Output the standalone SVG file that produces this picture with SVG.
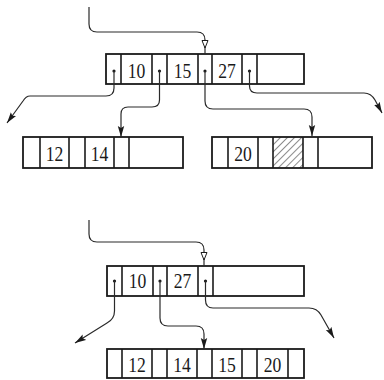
<svg xmlns="http://www.w3.org/2000/svg" width="384" height="380" viewBox="0 0 384 380">
  <style>
    .box { fill: #fff; stroke: #1a1a1a; stroke-width: 1.8; }
    .div { stroke: #1a1a1a; stroke-width: 1.6; }
    .key { font-family: "Liberation Serif", "DejaVu Serif", serif; font-size: 20.5px; fill: #1a1a1a; text-anchor: middle; }
    .dot { fill: #1a1a1a; }
    .wire { fill: none; stroke: #2a2a2a; stroke-width: 1.2; }
    .arrow { marker-end: url(#head); }
    .arrow-open { marker-end: url(#head-open); }
  </style>
  <defs>
    <marker id="head" markerUnits="userSpaceOnUse" markerWidth="12" markerHeight="8" refX="11" refY="4" orient="auto">
      <path d="M0,0.8 L11,4 L0,7.2 L2,4 z" fill="#1a1a1a"/>
    </marker>
    <marker id="head-open" markerUnits="userSpaceOnUse" markerWidth="10" markerHeight="8" refX="8" refY="4" orient="auto">
      <path d="M0.5,1 L8,4 L0.5,7 z" fill="#fff" stroke="#1a1a1a" stroke-width="1"/>
    </marker>
    <pattern id="hatch" patternUnits="userSpaceOnUse" width="5" height="5" patternTransform="rotate(45)">
      <line x1="0" y1="0" x2="0" y2="5" stroke="#1a1a1a" stroke-width="1"/>
    </pattern>
  </defs>

  <!-- upper tree: root node -->
  <g id="root-a">
    <rect class="box" x="106" y="54" width="198" height="30"/>
    <line class="div" x1="121" y1="54" x2="121" y2="84"/>
    <line class="div" x1="152" y1="54" x2="152" y2="84"/>
    <line class="div" x1="167" y1="54" x2="167" y2="84"/>
    <line class="div" x1="198" y1="54" x2="198" y2="84"/>
    <line class="div" x1="212" y1="54" x2="212" y2="84"/>
    <line class="div" x1="242" y1="54" x2="242" y2="84"/>
    <line class="div" x1="257" y1="54" x2="257" y2="84"/>
    <text class="key" transform="translate(136.5,78) scale(0.86,1)">10</text>
    <text class="key" transform="translate(182.5,78) scale(0.86,1)">15</text>
    <text class="key" transform="translate(227,78) scale(0.86,1)">27</text>
    <circle class="dot" cx="114" cy="71" r="1.6"/>
    <circle class="dot" cx="159.5" cy="71" r="1.6"/>
    <circle class="dot" cx="205" cy="71" r="1.6"/>
    <circle class="dot" cx="249.5" cy="71" r="1.6"/>
  </g>

  <!-- upper tree: left child -->
  <g id="leaf-a1">
    <rect class="box" x="23" y="137" width="160" height="31"/>
    <line class="div" x1="40" y1="137" x2="40" y2="168"/>
    <line class="div" x1="69" y1="137" x2="69" y2="168"/>
    <line class="div" x1="85" y1="137" x2="85" y2="168"/>
    <line class="div" x1="114" y1="137" x2="114" y2="168"/>
    <line class="div" x1="129" y1="137" x2="129" y2="168"/>
    <text class="key" transform="translate(54.5,161) scale(0.86,1)">12</text>
    <text class="key" transform="translate(99.5,161) scale(0.86,1)">14</text>
  </g>

  <!-- upper tree: right child with hatched slot -->
  <g id="leaf-a2">
    <rect class="box" x="212" y="137" width="160" height="31"/>
    <rect x="273" y="137" width="30" height="31" fill="url(#hatch)"/>
    <line class="div" x1="228" y1="137" x2="228" y2="168"/>
    <line class="div" x1="258" y1="137" x2="258" y2="168"/>
    <line class="div" x1="273" y1="137" x2="273" y2="168"/>
    <line class="div" x1="303" y1="137" x2="303" y2="168"/>
    <line class="div" x1="318" y1="137" x2="318" y2="168"/>
    <text class="key" transform="translate(243,161) scale(0.86,1)">20</text>
  </g>

  <!-- lower tree: root node -->
  <g id="root-b">
    <rect class="box" x="107" y="266" width="197" height="30"/>
    <line class="div" x1="122" y1="266" x2="122" y2="296"/>
    <line class="div" x1="153" y1="266" x2="153" y2="296"/>
    <line class="div" x1="167" y1="266" x2="167" y2="296"/>
    <line class="div" x1="198" y1="266" x2="198" y2="296"/>
    <line class="div" x1="213" y1="266" x2="213" y2="296"/>
    <text class="key" transform="translate(137.5,288) scale(0.86,1)">10</text>
    <text class="key" transform="translate(182.5,288) scale(0.86,1)">27</text>
    <circle class="dot" cx="114.5" cy="281" r="1.6"/>
    <circle class="dot" cx="160" cy="281" r="1.6"/>
    <circle class="dot" cx="205.5" cy="281" r="1.6"/>
  </g>

  <!-- lower tree: merged leaf -->
  <g id="leaf-b">
    <rect class="box" x="107" y="349" width="197" height="29"/>
    <line class="div" x1="122" y1="349" x2="122" y2="378"/>
    <line class="div" x1="152" y1="349" x2="152" y2="378"/>
    <line class="div" x1="167" y1="349" x2="167" y2="378"/>
    <line class="div" x1="197" y1="349" x2="197" y2="378"/>
    <line class="div" x1="212" y1="349" x2="212" y2="378"/>
    <line class="div" x1="242" y1="349" x2="242" y2="378"/>
    <line class="div" x1="257" y1="349" x2="257" y2="378"/>
    <line class="div" x1="288" y1="349" x2="288" y2="378"/>
    <text class="key" transform="translate(137,372) scale(0.86,1)">12</text>
    <text class="key" transform="translate(182,372) scale(0.86,1)">14</text>
    <text class="key" transform="translate(227,372) scale(0.86,1)">15</text>
    <text class="key" transform="translate(272.5,372) scale(0.86,1)">20</text>
  </g>

  <!-- pointers -->
  <g id="connectors">
    <path class="wire arrow-open" d="M89,7 V24 Q89,32 97,32 H197 Q205,32 205,40 V48"/>
    <line class="wire" x1="205" y1="47" x2="205" y2="54"/>
    <path class="wire arrow" d="M114,71 V88 Q114,96 106,96 H30 Q26,96 23,101 L7,123"/>
    <path class="wire arrow" d="M159.5,71 V100 Q159.5,107 152,107 H128 Q121,107 121,114 V137"/>
    <path class="wire arrow" d="M205,71 V101 Q205,109 213,109 H304 Q312,109 312,117 V136"/>
    <path class="wire arrow" d="M249.5,71 V86 Q249.5,93 257,93 H364 Q371,93 375,100 L382,113"/>

    <path class="wire arrow-open" d="M89,220 V234 Q89,242 97,242 H196 Q204,242 204,250 V260"/>
    <line class="wire" x1="204" y1="259" x2="204" y2="266"/>
    <path class="wire arrow" d="M114.5,281 V311 Q114.5,319 107,323 L75,343"/>
    <path class="wire arrow" d="M160,281 V318 Q160,326 168,326 H196 Q204,326 204,334 V349"/>
    <path class="wire arrow" d="M205.5,281 V300 Q205.5,308 213,308 H309 Q317,308 321,315 L334,338"/>
  </g>
</svg>
